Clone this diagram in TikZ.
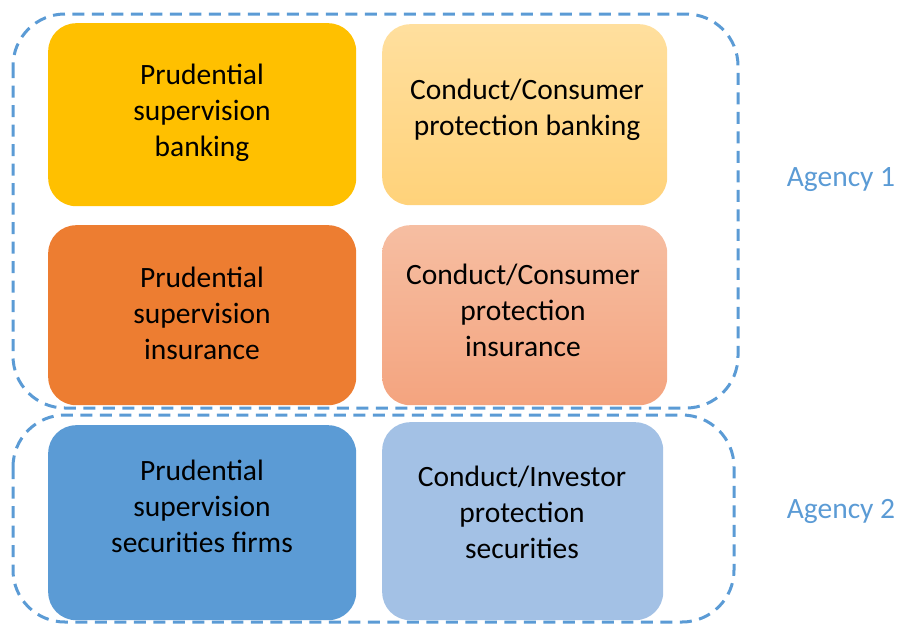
\documentclass[tikz,border=0pt]{standalone}
\usepackage{fontspec}
\setmainfont{Carlito}
\begin{document}
\begin{tikzpicture}[x=1pt,y=-1pt,
  box/.style={rectangle,draw=none,rounded corners=28pt,inner sep=0pt,anchor=north west},
  txt/.style={align=center,font=\fontsize{29.5}{36}\selectfont,text=black,inner sep=0pt},
  agency/.style={draw={rgb,255:red,91;green,155;blue,213},line width=3pt,dash pattern=on 12pt off 7.5pt,rounded corners=52pt},
  agtxt/.style={font=\fontsize{29.5}{36}\selectfont,text={rgb,255:red,91;green,155;blue,213},inner sep=0pt}]
\useasboundingbox (0,0) rectangle (899,625);
\definecolor{c1}{HTML}{FFC000}
\definecolor{c2t}{HTML}{FFDF9E}
\definecolor{c2b}{HTML}{FFD27A}
\definecolor{c3}{HTML}{ED7D31}
\definecolor{c4t}{HTML}{F6BEA2}
\definecolor{c4b}{HTML}{F4A47F}
\definecolor{c5}{HTML}{5B9BD5}
\definecolor{c6}{HTML}{A3C1E5}
% boxes
\node[box,fill=c1,minimum width=308pt,minimum height=183pt] (b1) at (48,23) {};
\node[box,top color=c2t,bottom color=c2b,minimum width=285pt,minimum height=181pt] (b2) at (382,24) {};
\node[box,fill=c3,minimum width=308pt,minimum height=180pt] (b3) at (48,225) {};
\node[box,top color=c4t,bottom color=c4b,minimum width=285pt,minimum height=180pt] (b4) at (382,225) {};
\node[box,fill=c5,minimum width=308pt,minimum height=195pt] (b5) at (48,425) {};
\node[box,fill=c6,minimum width=281pt,minimum height=198pt] (b6) at (382,422) {};
% texts
\node[txt] (t1) at (202,113) {Prudential\\supervision\\banking};
\node[txt] (t2) at (527,110) {Conduct/Consumer\\protection banking};
\node[txt] (t3) at (202,313) {Prudential\\supervision\\insurance};
\node[txt] (t4) at (523,310) {Conduct/Consumer\\protection\\insurance};
\node[txt] (t5) at (202,506) {Prudential\\supervision\\securities firms};
\node[txt] (t6) at (522,512) {Conduct/Investor\\protection\\securities};
% agencies
\draw[agency] (13,14) rectangle (738,408);
\draw[agency] (13,415) rectangle (734,622);
\node[agtxt] (a1) at (841,180) {Agency 1};
\node[agtxt] (a2) at (841,511) {Agency 2};
\end{tikzpicture}
\end{document}
